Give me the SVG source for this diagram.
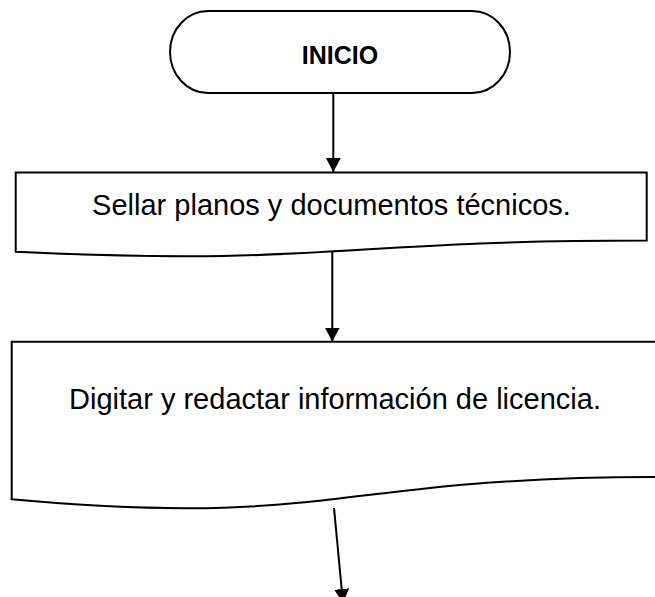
<svg xmlns="http://www.w3.org/2000/svg" width="655" height="597" viewBox="0 0 655 597">
  <style>
    .shape { fill: #ffffff; stroke: #000000; stroke-width: 2; }
    .conn { stroke: #000000; stroke-width: 2; fill: none; marker-end: url(#arrow); }
    .label { font-family: "Liberation Sans", Arial, sans-serif; font-size: 29px; fill: #000000; text-anchor: middle; }
    .title { font-family: "Liberation Sans", Arial, sans-serif; font-size: 25px; font-weight: bold; fill: #000000; text-anchor: middle; }
  </style>
  <defs>
    <marker id="arrow" viewBox="0 0 14 15" markerWidth="14" markerHeight="15" refX="14" refY="7.5" orient="auto" markerUnits="userSpaceOnUse">
      <path d="M0,0 L14,7.5 L0,15 Z" fill="#000000"/>
    </marker>
  </defs>
  <rect width="655" height="597" fill="#ffffff"/>
  <g id="connectors">
    <line class="conn" x1="333.3" y1="93" x2="333.3" y2="172"/>
    <line class="conn" x1="332.3" y1="249" x2="332.3" y2="341.5"/>
    <line class="conn" x1="334" y1="508" x2="343" y2="603"/>
  </g>
  <g id="inicio">
    <rect class="shape" x="170" y="11" width="340" height="82" rx="38" ry="41"/>
    <text class="title" x="340" y="63.5">INICIO</text>
  </g>
  <g id="sellar">
    <path class="shape" d="M15.7,172.5 L646.7,172.5 L646.7,240.5 C331.2,240.5 331.2,266.4 15.7,251.7 Z"/>
    <text class="label" x="331.5" y="215">Sellar planos y documentos técnicos.</text>
  </g>
  <g id="digitar">
    <path class="shape" d="M11.7,341.7 L657,341.7 L657,477 C334.3,477 334.3,528.5 11.7,499.3 Z"/>
    <text class="label" x="335" y="409">Digitar y redactar información de licencia.</text>
  </g>
</svg>
